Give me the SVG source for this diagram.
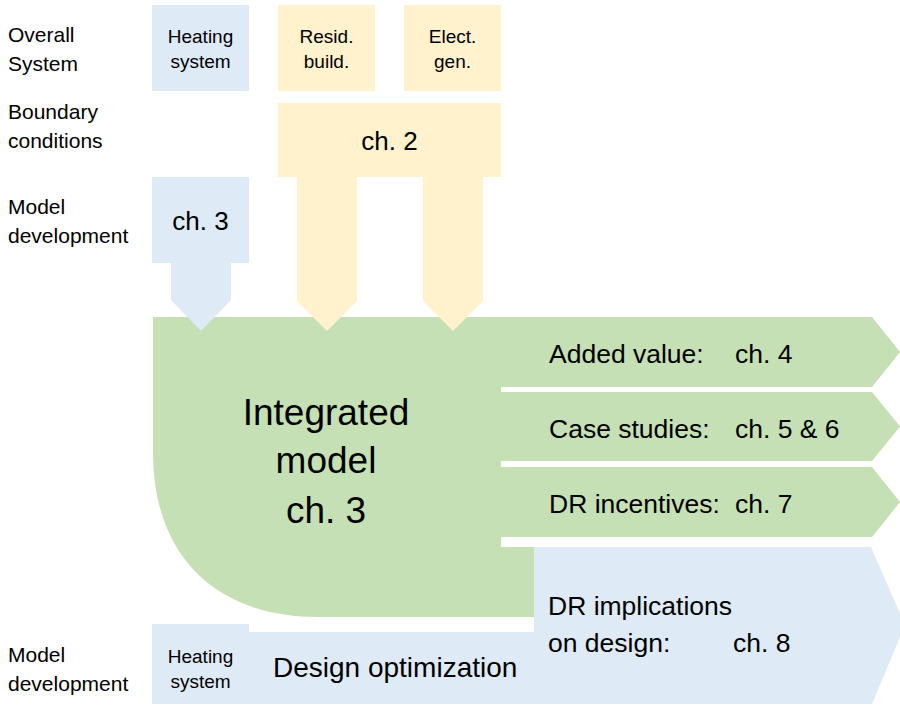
<svg xmlns="http://www.w3.org/2000/svg" width="900" height="706" viewBox="0 0 900 706">
  <style>
    text { font-family: "Liberation Sans", Arial, sans-serif; fill: #000; }
    .blue { fill: #DEEBF7; }
    .yellow { fill: #FFF2CC; }
    .green { fill: #C5E0B4; }
    .lbl { font-size: 21px; }
    .small { font-size: 19px; text-anchor: middle; }
    .ch { font-size: 26px; text-anchor: middle; }
    .arr { font-size: 26.5px; }
    .big { font-size: 37px; text-anchor: middle; }
  </style>
  <rect x="0" y="0" width="900" height="706" fill="#FFFFFF"/>

  <g id="row-labels">
    <text class="lbl" x="8" y="42">Overall</text>
    <text class="lbl" x="8" y="71">System</text>
    <text class="lbl" x="8" y="119">Boundary</text>
    <text class="lbl" x="8" y="148">conditions</text>
    <text class="lbl" x="8" y="214">Model</text>
    <text class="lbl" x="8" y="243">development</text>
    <text class="lbl" x="8" y="662">Model</text>
    <text class="lbl" x="8" y="691">development</text>
  </g>

  <g id="integrated-model">
    <path class="green" d="M153,317 H501 V547 H534 V617 H318 C218,617 153,558 153,452 Z"/>
    <text class="big" x="326" y="425">Integrated</text>
    <text class="big" x="326" y="473">model</text>
    <text class="big" x="326" y="523">ch. 3</text>
  </g>

  <g id="heating-system-top">
    <rect class="blue" x="152" y="5" width="97" height="86"/>
    <text class="small" x="200.5" y="43">Heating</text>
    <text class="small" x="200.5" y="68">system</text>
  </g>
  <g id="resid-build">
    <rect class="yellow" x="278" y="5" width="97" height="86"/>
    <text class="small" x="326.5" y="43">Resid.</text>
    <text class="small" x="326.5" y="68">build.</text>
  </g>
  <g id="elect-gen">
    <rect class="yellow" x="404" y="5" width="97" height="86"/>
    <text class="small" x="452.5" y="43">Elect.</text>
    <text class="small" x="452.5" y="68">gen.</text>
  </g>

  <g id="ch2">
    <rect class="yellow" x="278" y="103" width="223" height="74"/>
    <text class="ch" x="389.5" y="150">ch. 2</text>
  </g>

  <g id="ch3-model-dev">
    <rect class="blue" x="152" y="177" width="97" height="86"/>
    <text class="ch" x="200.5" y="230">ch. 3</text>
  </g>

  <g id="connectors">
    <polygon class="blue" points="171,262 231,262 231,300 201,331 171,300"/>
    <polygon class="yellow" points="297,176 357,176 357,301 327,331 297,301"/>
    <polygon class="yellow" points="423,176 483,176 483,301 453,331 423,301"/>
  </g>

  <g id="added-value">
    <polygon class="green" points="500,317 872,317 900,352 872,387 500,387"/>
    <text class="arr" x="549" y="363">Added value:</text>
    <text class="arr" x="735" y="363">ch. 4</text>
  </g>
  <g id="case-studies">
    <polygon class="green" points="500,392 872,392 900,426.5 872,461 500,461"/>
    <text class="arr" x="549" y="438">Case studies:</text>
    <text class="arr" x="735" y="438">ch. 5 &amp; 6</text>
  </g>
  <g id="dr-incentives">
    <polygon class="green" points="500,467 872,467 900,502 872,537 500,537"/>
    <text class="arr" x="549" y="513">DR incentives:</text>
    <text class="arr" x="735" y="513">ch. 7</text>
  </g>

  <g id="dr-implications">
    <polygon class="blue" points="534,547 871,547 905,625 872,704 534,704"/>
    <text class="arr" x="548" y="615">DR implications</text>
    <text class="arr" x="548" y="652">on design:</text>
    <text class="arr" x="733" y="652">ch. 8</text>
  </g>

  <g id="design-optimization">
    <rect class="blue" x="248" y="632" width="287" height="72"/>
    <text x="273" y="677" style="font-size:28px">Design optimization</text>
  </g>

  <g id="heating-system-bottom">
    <rect class="blue" x="152" y="624" width="97" height="80"/>
    <text class="small" x="200.5" y="663">Heating</text>
    <text class="small" x="200.5" y="688">system</text>
  </g>
</svg>
